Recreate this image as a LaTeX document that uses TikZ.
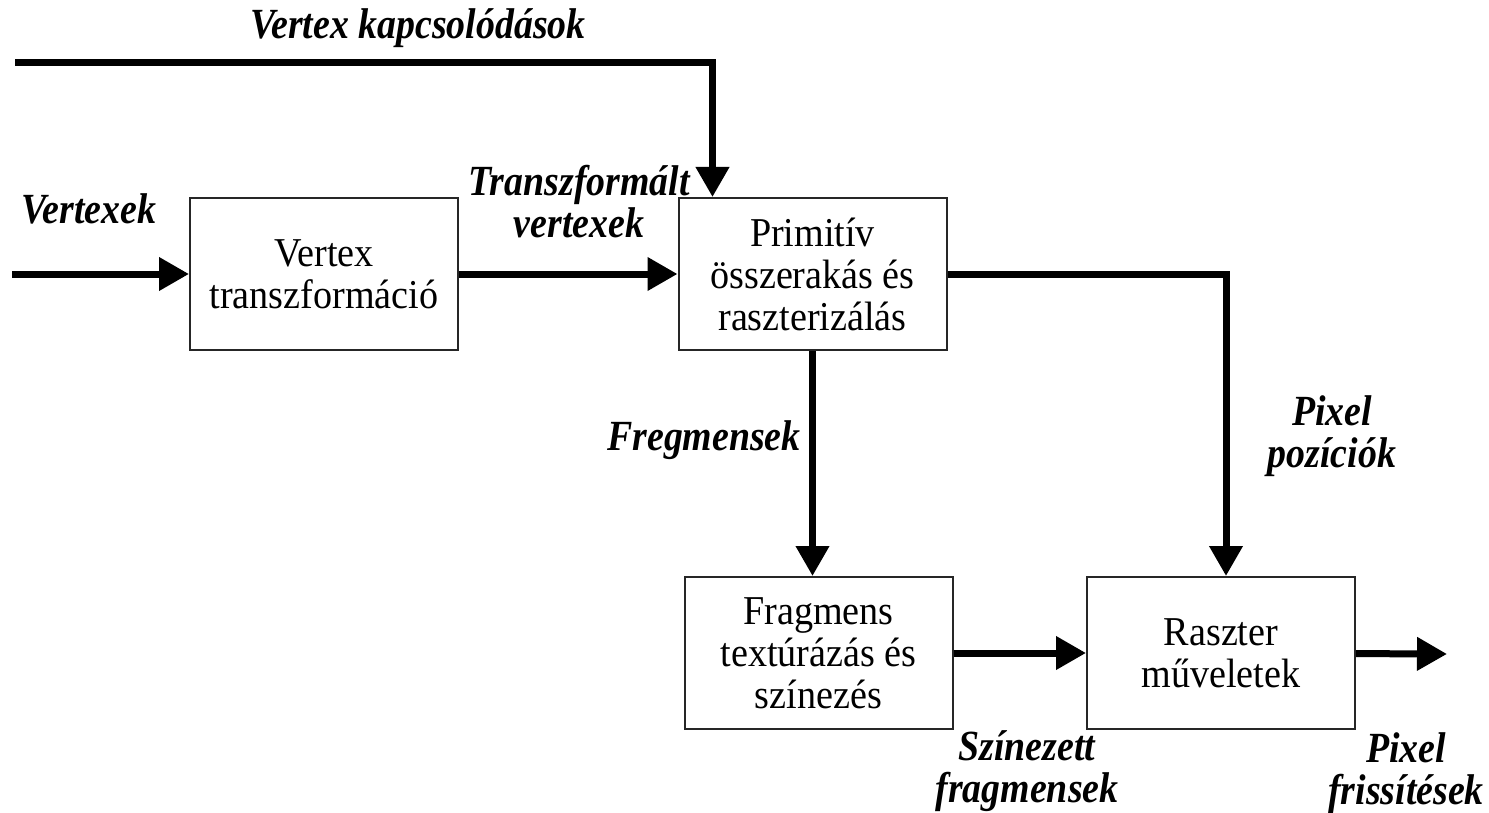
\documentclass[tikz,border=0pt]{standalone}
\usepackage{fontspec}
\setmainfont{Liberation Serif}
\newfontfamily\dobozfont[FakeStretch=0.93]{Liberation Serif}
\newfontfamily\cimkefont[FakeStretch=0.88]{Liberation Serif}
\usepackage{tikz}
\usetikzlibrary{arrows.meta, positioning}

\begin{document}
\begin{tikzpicture}[x=0.5pt, y=-0.5pt,
    doboz/.style={draw=black!85, line width=1pt, minimum width=134pt, minimum height=76pt,
        inner sep=0pt, align=center, font=\dobozfont\fontsize{20.5}{21}\selectfont},
    nyil/.style={line width=3.5pt, -{Triangle[length=15pt, width=16pt]}},
    cimke/.style={align=center, inner sep=0pt, font=\cimkefont\bfseries\itshape\fontsize{21.5}{21}\selectfont}]
    % Keret a kép arányaihoz
    \useasboundingbox (0,0) rectangle (1489,813);

    % A feldolgozási lépések dobozai
    \node[doboz] (vt) at (324,274) {Vertex\\transzformáció};
    \node[doboz] (prim) at (812.5,274) {Primitív\\összerakás és\\raszterizálás};
    \node[doboz] (frag) at (818.5,653) {Fragmens\\textúrázás és\\színezés};
    \node[doboz] (raszt) at (1221,653) {Raszter\\műveletek};

    % Szabad végpontok
    \coordinate (be) at (12,274);
    \coordinate (felso) at (15,63);
    \coordinate (ki) at (1447,654);

    % Nyilak
    \draw[nyil] (be) -- (vt.west);
    \draw[nyil] (vt) -- (prim);
    \draw[nyil] (felso) -| ([xshift=17.5pt]prim.north west);
    \draw[nyil] (prim.east) -| ([xshift=2.5pt]raszt.north);
    \draw[nyil] (prim.south) -- (prim.south |- frag.north);
    \draw[nyil] (frag) -- (raszt);
    \draw[nyil] (raszt) -- (ki);

    % Feliratok
    \node[cimke] (l1) at (418,28) {Vertex kapcsolódások};
    \node[cimke] (l2) at (89,209) {Vertexek};
    \node[cimke] (l3) at (579,202) {Transzformált\\vertexek};
    \node[cimke] (l4) at (704,440) {Fregmensek};
    \node[cimke] (l5) at (1332,436) {Pixel\\pozíciók};
    \node[cimke] (l6) at (1027,771) {Színezett\\fragmensek};
    \node[cimke] (l7) at (1406,773) {Pixel\\frissítések};
\end{tikzpicture}
\end{document}
